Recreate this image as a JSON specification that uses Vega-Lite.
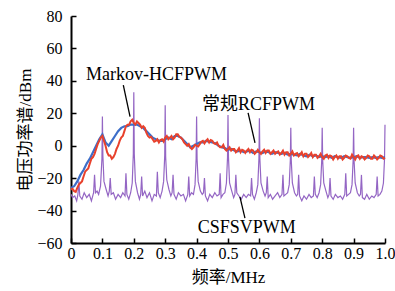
{
  "$schema": "https://vega.github.io/schema/vega-lite/v6.json",
  "width": 314,
  "height": 227,
  "autosize": {"type": "none"},
  "padding": {"left": 71, "top": 16, "right": 10, "bottom": 48},
  "background": "white",
  "config": {
    "view": {"stroke": null},
    "font": "Liberation Serif, Noto Sans CJK SC",
    "axis": {
      "grid": false,
      "domain": true,
      "domainColor": "black",
      "domainWidth": 2,
      "tickColor": "black",
      "tickWidth": 1.5,
      "tickSize": -5,
      "labelColor": "black",
      "labelFont": "Liberation Serif",
      "labelFontSize": 16,
      "titleColor": "black",
      "titleFont": "Liberation Serif, Noto Sans CJK SC",
      "titleFontSize": 17,
      "titleFontWeight": "normal"
    }
  },
  "datasets": {
    "purple": [
      {"f":0,"v":-30},{"f":0.005,"v":-32},{"f":0.012,"v":-31},{"f":0.018,"v":-34},{"f":0.022,"v":-30},{"f":0.025,"v":-22},{"f":0.028,"v":-31},{"f":0.035,"v":-33},{"f":0.042,"v":-29},{"f":0.05,"v":-32},{"f":0.058,"v":-30},{"f":0.065,"v":-34},{"f":0.072,"v":-29},{"f":0.075,"v":-18},{"f":0.078,"v":-29},{"f":0.083,"v":-28},{"f":0.088,"v":-30},{"f":0.094,"v":-25},{"f":0.0985,"v":-8},{"f":0.1,"v":18},
      {"f":0.1015,"v":-6},{"f":0.105,"v":-22},{"f":0.112,"v":-27},{"f":0.118,"v":-31},{"f":0.122,"v":-28},{"f":0.125,"v":-20},{"f":0.128,"v":-30},{"f":0.135,"v":-29},{"f":0.142,"v":-33},{"f":0.15,"v":-30},{"f":0.158,"v":-32},{"f":0.165,"v":-29},{"f":0.172,"v":-31},{"f":0.175,"v":-17},{"f":0.178,"v":-30},{"f":0.184,"v":-33},{"f":0.19,"v":-29},{"f":0.195,"v":-23},{"f":0.1985,"v":-5},{"f":0.2,"v":33},
      {"f":0.2015,"v":-5},{"f":0.205,"v":-22},{"f":0.212,"v":-29},{"f":0.218,"v":-33},{"f":0.222,"v":-30},{"f":0.225,"v":-19},{"f":0.228,"v":-31},{"f":0.235,"v":-28},{"f":0.242,"v":-32},{"f":0.25,"v":-29},{"f":0.258,"v":-34},{"f":0.265,"v":-30},{"f":0.272,"v":-31},{"f":0.275,"v":-16},{"f":0.278,"v":-29},{"f":0.284,"v":-32},{"f":0.29,"v":-28},{"f":0.295,"v":-22},{"f":0.2985,"v":-6},{"f":0.3,"v":25},
      {"f":0.3015,"v":-7},{"f":0.305,"v":-21},{"f":0.312,"v":-27},{"f":0.318,"v":-31},{"f":0.322,"v":-29},{"f":0.325,"v":-18},{"f":0.328,"v":-30},{"f":0.335,"v":-33},{"f":0.342,"v":-29},{"f":0.35,"v":-31},{"f":0.358,"v":-30},{"f":0.365,"v":-34},{"f":0.372,"v":-30},{"f":0.375,"v":-19},{"f":0.378,"v":-31},{"f":0.384,"v":-29},{"f":0.39,"v":-30},{"f":0.395,"v":-24},{"f":0.3985,"v":-8},{"f":0.4,"v":18},
      {"f":0.4015,"v":-8},{"f":0.405,"v":-22},{"f":0.412,"v":-28},{"f":0.418,"v":-30},{"f":0.422,"v":-29},{"f":0.425,"v":-20},{"f":0.428,"v":-31},{"f":0.435,"v":-34},{"f":0.442,"v":-30},{"f":0.45,"v":-32},{"f":0.458,"v":-29},{"f":0.465,"v":-31},{"f":0.472,"v":-30},{"f":0.475,"v":-17},{"f":0.478,"v":-32},{"f":0.484,"v":-30},{"f":0.49,"v":-29},{"f":0.495,"v":-23},{"f":0.4985,"v":-7},{"f":0.5,"v":19},
      {"f":0.5015,"v":-7},{"f":0.505,"v":-23},{"f":0.512,"v":-28},{"f":0.518,"v":-32},{"f":0.522,"v":-30},{"f":0.525,"v":-18},{"f":0.528,"v":-29},{"f":0.535,"v":-31},{"f":0.542,"v":-33},{"f":0.55,"v":-30},{"f":0.558,"v":-32},{"f":0.565,"v":-30},{"f":0.572,"v":-31},{"f":0.575,"v":-20},{"f":0.578,"v":-30},{"f":0.584,"v":-33},{"f":0.59,"v":-29},{"f":0.595,"v":-24},{"f":0.5985,"v":-8},{"f":0.6,"v":17},
      {"f":0.6015,"v":-8},{"f":0.605,"v":-23},{"f":0.612,"v":-28},{"f":0.618,"v":-31},{"f":0.622,"v":-29},{"f":0.625,"v":-19},{"f":0.628,"v":-32},{"f":0.635,"v":-30},{"f":0.642,"v":-33},{"f":0.65,"v":-31},{"f":0.658,"v":-29},{"f":0.665,"v":-32},{"f":0.672,"v":-30},{"f":0.675,"v":-18},{"f":0.678,"v":-31},{"f":0.684,"v":-30},{"f":0.69,"v":-29},{"f":0.695,"v":-24},{"f":0.6985,"v":-9},{"f":0.7,"v":11},
      {"f":0.7015,"v":-9},{"f":0.705,"v":-23},{"f":0.712,"v":-29},{"f":0.718,"v":-31},{"f":0.722,"v":-30},{"f":0.725,"v":-18},{"f":0.728,"v":-31},{"f":0.735,"v":-34},{"f":0.742,"v":-31},{"f":0.75,"v":-33},{"f":0.758,"v":-30},{"f":0.765,"v":-32},{"f":0.772,"v":-31},{"f":0.775,"v":-19},{"f":0.778,"v":-30},{"f":0.784,"v":-32},{"f":0.79,"v":-29},{"f":0.795,"v":-24},{"f":0.7985,"v":-9},{"f":0.8,"v":11},
      {"f":0.8015,"v":-9},{"f":0.805,"v":-23},{"f":0.812,"v":-28},{"f":0.818,"v":-32},{"f":0.822,"v":-30},{"f":0.825,"v":-20},{"f":0.828,"v":-31},{"f":0.835,"v":-33},{"f":0.842,"v":-30},{"f":0.85,"v":-32},{"f":0.858,"v":-31},{"f":0.865,"v":-33},{"f":0.872,"v":-30},{"f":0.875,"v":-17},{"f":0.878,"v":-31},{"f":0.884,"v":-30},{"f":0.89,"v":-29},{"f":0.895,"v":-24},{"f":0.8985,"v":-9},{"f":0.9,"v":11},
      {"f":0.9015,"v":-9},{"f":0.905,"v":-23},{"f":0.912,"v":-29},{"f":0.918,"v":-31},{"f":0.922,"v":-30},{"f":0.925,"v":-18},{"f":0.928,"v":-32},{"f":0.935,"v":-33},{"f":0.942,"v":-30},{"f":0.95,"v":-33},{"f":0.958,"v":-31},{"f":0.965,"v":-32},{"f":0.972,"v":-30},{"f":0.975,"v":-19},{"f":0.978,"v":-31},{"f":0.984,"v":-30},{"f":0.99,"v":-28},{"f":0.995,"v":-23},{"f":0.9985,"v":-8},{"f":1.0,"v":13}
    ],
    "blue": [
      {"f":0,"v":-26},{"f":0.01,"v":-25},{"f":0.02,"v":-22},{"f":0.03,"v":-18},{"f":0.04,"v":-15},{"f":0.05,"v":-11},{"f":0.06,"v":-8},{"f":0.07,"v":-4},{"f":0.08,"v":0},{"f":0.09,"v":4},{"f":0.1,"v":7},{"f":0.11,"v":2},{"f":0.12,"v":0},{"f":0.13,"v":3},{"f":0.14,"v":6},{"f":0.15,"v":9},{"f":0.16,"v":11},{"f":0.17,"v":12},{"f":0.18,"v":12},{"f":0.19,"v":13},{"f":0.2,"v":13},{"f":0.21,"v":13},{"f":0.22,"v":12},{"f":0.23,"v":11},{"f":0.24,"v":9},{"f":0.25,"v":7},{"f":0.26,"v":5},{"f":0.27,"v":4},{"f":0.28,"v":3},{"f":0.29,"v":3},{"f":0.3,"v":4},{"f":0.31,"v":5},{"f":0.32,"v":4},{"f":0.33,"v":6},
      {"f":0.34,"v":6},{"f":0.35,"v":5},{"f":0.36,"v":3},{"f":0.37,"v":1},{"f":0.38,"v":-1},{"f":0.39,"v":0},{"f":0.4,"v":1},{"f":0.41,"v":2},{"f":0.42,"v":2},{"f":0.43,"v":3},{"f":0.44,"v":2.5},{"f":0.45,"v":2},{"f":0.46,"v":1.5},{"f":0.47,"v":0},{"f":0.48,"v":-1},{"f":0.49,"v":-1.5},{"f":0.5,"v":-2.5},{"f":0.51,"v":-2},{"f":0.52,"v":-3},{"f":0.53,"v":-3.5},{"f":0.54,"v":-3},{"f":0.55,"v":-4},{"f":0.56,"v":-3.5},{"f":0.57,"v":-3},{"f":0.58,"v":-4.5},{"f":0.59,"v":-3.5},{"f":0.6,"v":-4},
      {"f":0.61,"v":-4.5},{"f":0.62,"v":-3.5},{"f":0.63,"v":-4},{"f":0.64,"v":-5},{"f":0.65,"v":-4},{"f":0.66,"v":-4.5},{"f":0.67,"v":-5},{"f":0.68,"v":-4.5},{"f":0.69,"v":-5.5},{"f":0.7,"v":-5},{"f":0.71,"v":-5.5},{"f":0.72,"v":-6},{"f":0.73,"v":-5},{"f":0.74,"v":-6},{"f":0.75,"v":-6.5},{"f":0.76,"v":-5.5},{"f":0.77,"v":-6.5},{"f":0.78,"v":-6},{"f":0.79,"v":-7},{"f":0.8,"v":-6.5},
      {"f":0.81,"v":-7},{"f":0.82,"v":-6.5},{"f":0.83,"v":-7.5},{"f":0.84,"v":-6.5},{"f":0.85,"v":-7},{"f":0.86,"v":-7.5},{"f":0.87,"v":-6.5},{"f":0.88,"v":-7},{"f":0.89,"v":-7.5},{"f":0.9,"v":-7},{"f":0.91,"v":-6.5},{"f":0.92,"v":-7.5},{"f":0.93,"v":-7},{"f":0.94,"v":-7},{"f":0.95,"v":-7.5},{"f":0.96,"v":-7},{"f":0.97,"v":-7.5},{"f":0.98,"v":-7},{"f":0.99,"v":-7.5},{"f":1.0,"v":-7}
    ],
    "red": [
      {"f":0,"v":-27},{"f":0.01,"v":-28},{"f":0.02,"v":-26},{"f":0.03,"v":-23},{"f":0.04,"v":-19},{"f":0.05,"v":-15},{"f":0.06,"v":-11},{"f":0.07,"v":-7},{"f":0.08,"v":-2},{"f":0.09,"v":3},{"f":0.1,"v":6},{"f":0.11,"v":0},{"f":0.12,"v":-6},{"f":0.13,"v":-8},{"f":0.14,"v":-5},{"f":0.15,"v":0},{"f":0.16,"v":5},{"f":0.17,"v":9},{"f":0.18,"v":13},{"f":0.19,"v":15},{"f":0.2,"v":14},{"f":0.21,"v":15},{"f":0.22,"v":13},{"f":0.23,"v":12},{"f":0.24,"v":8},{"f":0.25,"v":5},{"f":0.26,"v":4},{"f":0.27,"v":3},{"f":0.28,"v":2},{"f":0.29,"v":4},{"f":0.3,"v":5},{"f":0.31,"v":4},{"f":0.32,"v":6},{"f":0.33,"v":5},{"f":0.34,"v":7},{"f":0.35,"v":5},{"f":0.36,"v":2},{"f":0.37,"v":0},{"f":0.38,"v":-1},{"f":0.39,"v":-1},{"f":0.4,"v":0},{"f":0.41,"v":1},{"f":0.42,"v":3},{"f":0.43,"v":3},{"f":0.44,"v":2},{"f":0.45,"v":3},{"f":0.46,"v":1},{"f":0.47,"v":0},{"f":0.48,"v":-1},{"f":0.49,"v":-2},{"f":0.5,"v":-2},{"f":0.51,"v":-3},{"f":0.52,"v":-2},{"f":0.53,"v":-3},{"f":0.54,"v":-4},{"f":0.55,"v":-3},{"f":0.56,"v":-3},{"f":0.57,"v":-4},{"f":0.58,"v":-3},{"f":0.59,"v":-4},{"f":0.6,"v":-4},
      {"f":0.61,"v":-3.5},{"f":0.62,"v":-4.5},{"f":0.63,"v":-3},{"f":0.64,"v":-4},{"f":0.65,"v":-5},{"f":0.66,"v":-3.5},{"f":0.67,"v":-4.5},{"f":0.68,"v":-5.5},{"f":0.69,"v":-4},{"f":0.7,"v":-5},{"f":0.71,"v":-6},{"f":0.72,"v":-4.5},{"f":0.73,"v":-5.5},{"f":0.74,"v":-6.5},{"f":0.75,"v":-5},{"f":0.76,"v":-6},{"f":0.77,"v":-7},{"f":0.78,"v":-5.5},{"f":0.79,"v":-6.5},{"f":0.8,"v":-7},
      {"f":0.81,"v":-6},{"f":0.82,"v":-7.5},{"f":0.83,"v":-6.5},{"f":0.84,"v":-7},{"f":0.85,"v":-8},{"f":0.86,"v":-6.5},{"f":0.87,"v":-7.5},{"f":0.88,"v":-6.5},{"f":0.89,"v":-8},{"f":0.9,"v":-7},{"f":0.91,"v":-6.5},{"f":0.92,"v":-8},{"f":0.93,"v":-7},{"f":0.94,"v":-7.5},{"f":0.95,"v":-6.5},{"f":0.96,"v":-8},{"f":0.97,"v":-7},{"f":0.98,"v":-7.5},{"f":0.99,"v":-6.5},{"f":1.0,"v":-7.5},
      {"f":0.005,"v":-26.5},{"f":0.015,"v":-28.5},{"f":0.025,"v":-24},{"f":0.035,"v":-22},{"f":0.045,"v":-16},{"f":0.055,"v":-14},{"f":0.065,"v":-8},{"f":0.075,"v":-5},{"f":0.085,"v":1},{"f":0.095,"v":5},{"f":0.105,"v":3},{"f":0.115,"v":-4},{"f":0.125,"v":-6},{"f":0.135,"v":-7},{"f":0.145,"v":-2},{"f":0.155,"v":3},{"f":0.165,"v":6},{"f":0.175,"v":12},{"f":0.185,"v":13},{"f":0.195,"v":16},
      {"f":0.205,"v":13},{"f":0.215,"v":14},{"f":0.225,"v":11},{"f":0.235,"v":11},{"f":0.245,"v":6},{"f":0.255,"v":5.5},{"f":0.265,"v":2.5},{"f":0.275,"v":4},{"f":0.285,"v":3.5},{"f":0.295,"v":2.5},{"f":0.305,"v":6},{"f":0.315,"v":5},{"f":0.325,"v":4},{"f":0.335,"v":7},{"f":0.345,"v":5.5},{"f":0.355,"v":4},{"f":0.365,"v":1},{"f":0.375,"v":1},{"f":0.385,"v":-2},{"f":0.395,"v":0.5},
      {"f":0.405,"v":-0.5},{"f":0.415,"v":2.5},{"f":0.425,"v":1.5},{"f":0.435,"v":4},{"f":0.445,"v":3.5},{"f":0.455,"v":1.5},{"f":0.465,"v":2},{"f":0.475,"v":-1},{"f":0.485,"v":0.5},{"f":0.495,"v":-3},{"f":0.505,"v":-1},{"f":0.515,"v":-2},{"f":0.525,"v":-4},{"f":0.535,"v":-1.5},{"f":0.545,"v":-2.5},{"f":0.555,"v":-4.5},{"f":0.565,"v":-2},{"f":0.575,"v":-2.5},{"f":0.585,"v":-5},{"f":0.595,"v":-2.5},
      {"f":0.605,"v":-5},{"f":0.615,"v":-2.5},{"f":0.625,"v":-3},{"f":0.635,"v":-5},{"f":0.645,"v":-3},{"f":0.655,"v":-4},{"f":0.665,"v":-5.5},{"f":0.675,"v":-3},{"f":0.685,"v":-4},{"f":0.695,"v":-6},{"f":0.705,"v":-3.5},{"f":0.715,"v":-5},{"f":0.725,"v":-6.5},{"f":0.735,"v":-4},{"f":0.745,"v":-5},{"f":0.755,"v":-7},{"f":0.765,"v":-4.5},{"f":0.775,"v":-5.5},{"f":0.785,"v":-7.5},{"f":0.795,"v":-5},
      {"f":0.805,"v":-8},{"f":0.815,"v":-5.5},{"f":0.825,"v":-6},{"f":0.835,"v":-8.5},{"f":0.845,"v":-6},{"f":0.855,"v":-6.5},{"f":0.865,"v":-8.5},{"f":0.875,"v":-6},{"f":0.885,"v":-7.5},{"f":0.895,"v":-5.5},{"f":0.905,"v":-8.5},{"f":0.915,"v":-6},{"f":0.925,"v":-6.5},{"f":0.935,"v":-8.5},{"f":0.945,"v":-6},{"f":0.955,"v":-8},{"f":0.965,"v":-6},{"f":0.975,"v":-8.5},{"f":0.985,"v":-6},{"f":0.995,"v":-8}
    ],
    "leaders": [
      {"f":0.1666,"v":37.4,"f2":0.188,"v2":17.9},
      {"f":0.564,"v":20.2,"f2":0.586,"v2":1.7},
      {"f":0.538,"v":-31.5,"f2":0.554,"v2":-44.6}
    ],
    "labels": [
      {"f":0.272,"v":43.6,"label":"Markov-HCFPWM"},
      {"f":0.597,"v":25.1,"label":"常规RCFPWM"},
      {"f":0.56,"v":-51,"label":"CSFSVPWM"}
    ]
  },
  "encoding": {
    "x": {
      "field": "f",
      "type": "quantitative",
      "scale": {"domain": [0, 1], "nice": false},
      "axis": {
        "title": "频率/MHz",
        "values": [0, 0.1, 0.2, 0.3, 0.4, 0.5, 0.6, 0.7, 0.8, 0.9, 1.0],
        "labelExpr": "datum.value == 0 ? '0' : format(datum.value, '.1f')",
        "labelPadding": 7,
        "labelFlush": false,
        "titleX": 157,
        "titleY": 34,
        "titleBaseline": "middle"
      }
    },
    "y": {
      "field": "v",
      "type": "quantitative",
      "scale": {"domain": [-60, 80], "nice": false},
      "axis": {
        "title": "电压功率谱/dBm",
        "values": [-60, -40, -20, 0, 20, 40, 60, 80],
        "labelPadding": 14,
        "labelFlush": false,
        "titleX": -46,
        "titleY": 113.5,
        "titleBaseline": "middle",
        "titleAngle": -90
      }
    }
  },
  "layer": [
    {"data": {"name": "purple"}, "mark": {"type": "line", "color": "#9466c4", "strokeWidth": 1.2}},
    {"data": {"name": "blue"}, "mark": {"type": "line", "color": "#3d6ec9", "strokeWidth": 2.2}},
    {"data": {"name": "red"}, "mark": {"type": "line", "color": "#e8412c", "strokeWidth": 2}},
    {"data": {"name": "leaders"}, "mark": {"type": "rule", "color": "black", "strokeWidth": 1.3},
     "encoding": {"x2": {"field": "f2"}, "y2": {"field": "v2"}}},
    {"data": {"name": "labels"}, "mark": {"type": "text", "fontSize": 18, "font": "Liberation Serif, Noto Sans CJK SC", "color": "black", "align": "center", "baseline": "middle"},
     "encoding": {"text": {"field": "label"}}}
  ]
}
